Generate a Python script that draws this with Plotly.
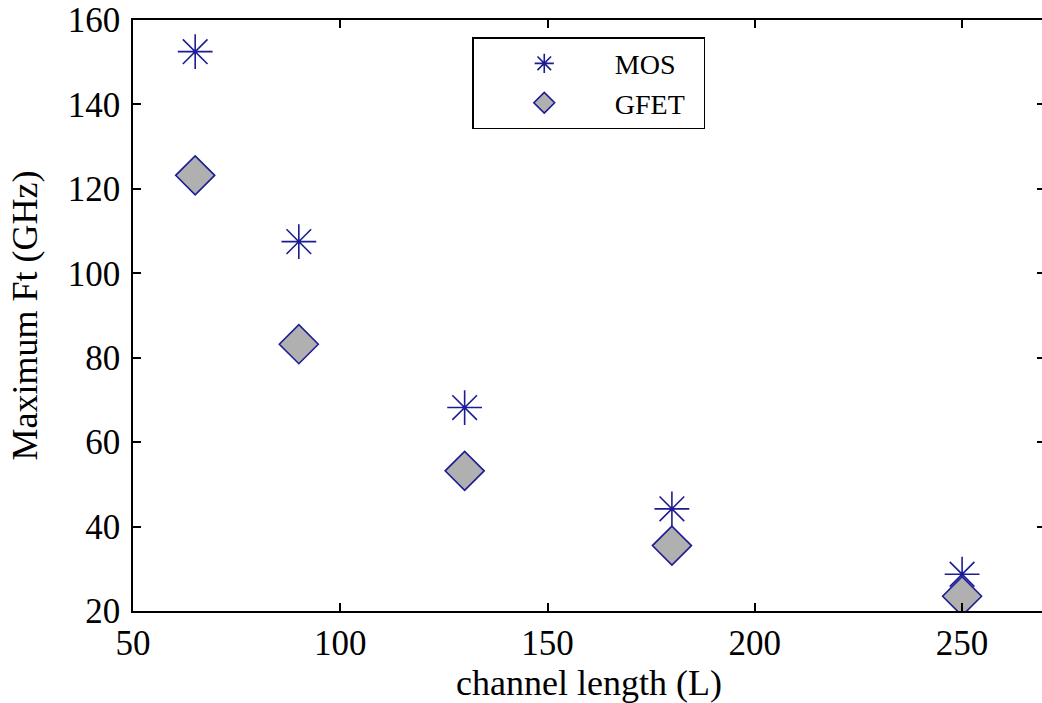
import plotly.graph_objects as go

channel_length = [65, 90, 130, 180, 250]
mos_ft = [152.5, 107.5, 68.2, 44.2, 28.7]
gfet_ft = [123.2, 83.2, 53.2, 35.5, 23.5]

x_ticks = [50, 100, 150, 200, 250]
y_ticks = [20, 40, 60, 80, 100, 120, 140, 160]

navy = "#1c1c94"
font_family = "Liberation Serif, Times New Roman, serif"
nb = "\u00a0"

fig = go.Figure()
fig.add_trace(go.Scatter(
    x=channel_length, y=mos_ft, mode="markers", name="MOS" + nb * 2,
    marker=dict(symbol="asterisk-open", size=29, color=navy, line=dict(color=navy, width=1.6)),
))
fig.add_trace(go.Scatter(
    x=channel_length, y=gfet_ft, mode="markers", name="GFET" + nb * 2,
    marker=dict(symbol="diamond", size=30, color="#b0b0b0", line=dict(color=navy, width=1.6)),
))

axis_common = dict(
    showline=True, linecolor="black", linewidth=1.5, mirror="ticks",
    ticks="inside", ticklen=8, tickwidth=1.5, tickcolor="black",
    showgrid=False, zeroline=False, automargin=False,
    ticklabeloverflow="allow",
    tickfont=dict(family=font_family, size=35, color="black"),
)

fig.update_layout(
    width=1045, height=703,
    paper_bgcolor="white", plot_bgcolor="white",
    margin=dict(l=133, r=0, t=20, b=92),
    xaxis=dict(range=[50, 270], tickvals=x_ticks, ticklabelstandoff=0,
               title=dict(text="channel length (L)", font=dict(family=font_family, size=36, color="black"), standoff=9),
               **axis_common),
    yaxis=dict(range=[20, 160], tickvals=y_ticks, ticklabelstandoff=4,
               title=dict(text="Maximum Ft (GHz)", font=dict(family=font_family, size=36, color="black"), standoff=19),
               **axis_common),
    legend=dict(x=0.372, y=0.971, xanchor="left", yanchor="top",
                bordercolor="black", borderwidth=1.5, bgcolor="white",
                font=dict(family=font_family, size=28, color="black"),
                itemwidth=131, tracegroupgap=0),
    showlegend=True,
)

fig.write_html(
    "out.html",
    config={"displayModeBar": False},
    post_script="document.body.style.margin='0';document.body.style.overflow='hidden';",
)
